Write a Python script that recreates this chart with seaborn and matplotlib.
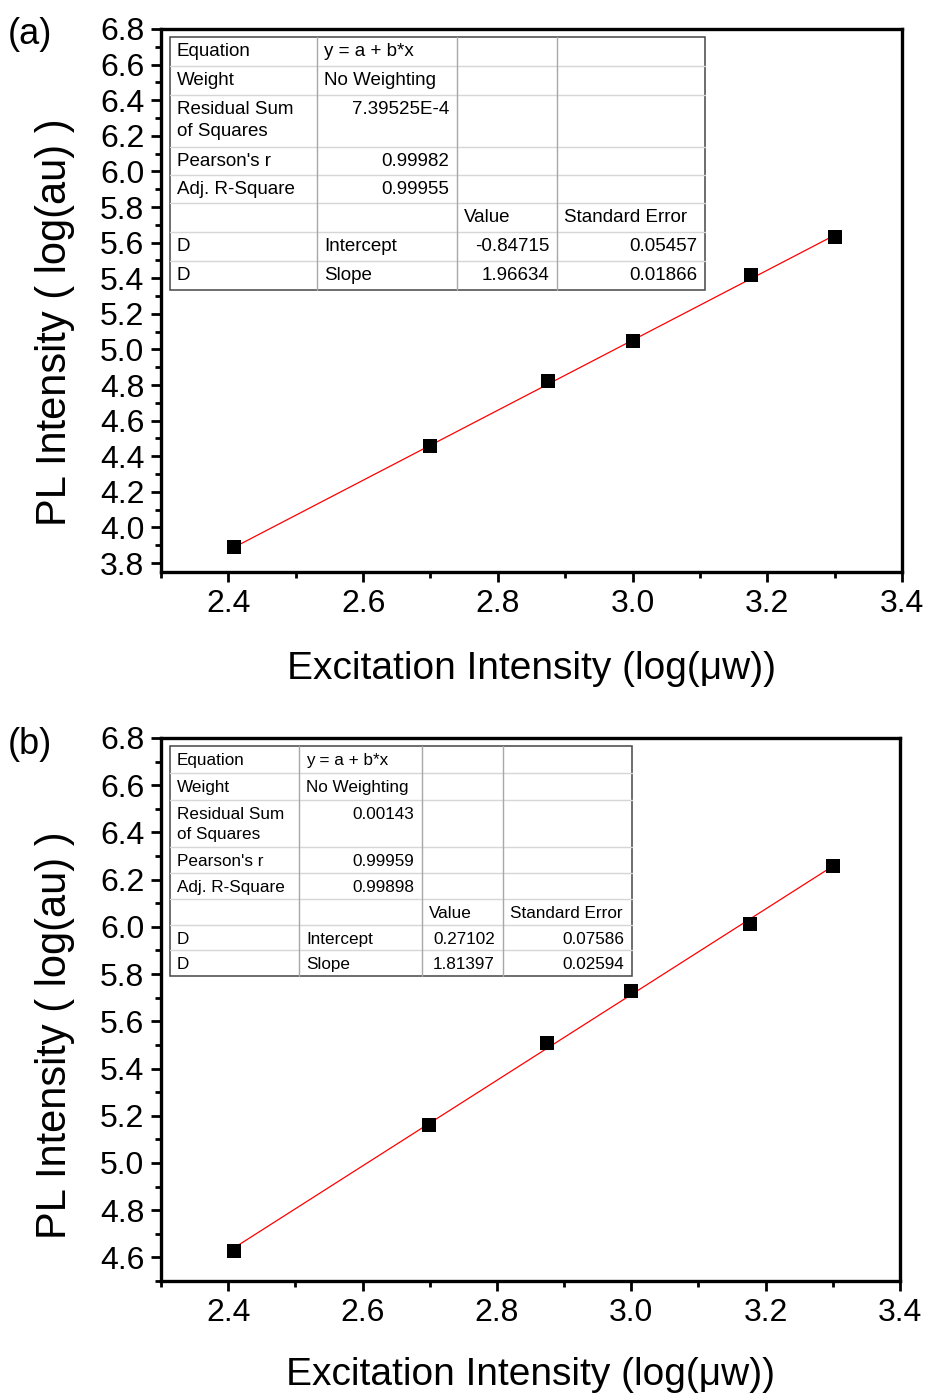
import numpy as np
import pandas as pd
import matplotlib
matplotlib.use("Agg")
import matplotlib.pyplot as plt
import seaborn as sns

# excitation intensity (log) and PL intensity (log)
x_exc = [2.408, 2.699, 2.875, 3.000, 3.176, 3.301]
y_pl_a = [3.89, 4.455, 4.825, 5.048, 5.418, 5.630]
y_pl_b = [4.626, 5.160, 5.508, 5.728, 6.012, 6.258]

fit_a = {"intercept": -0.84715, "slope": 1.96634}
fit_b = {"intercept": 0.27102, "slope": 1.81397}

table_a = [
    ["Equation", "y = a + b*x", "", ""],
    ["Weight", "No Weighting", "", ""],
    ["Residual Sum\nof Squares", "7.39525E-4", "", ""],
    ["Pearson's r", "0.99982", "", ""],
    ["Adj. R-Square", "0.99955", "", ""],
    ["", "", "Value", "Standard Error"],
    ["D", "Intercept", "-0.84715", "0.05457"],
    ["D", "Slope", "1.96634", "0.01866"],
]
table_b = [
    ["Equation", "y = a + b*x", "", ""],
    ["Weight", "No Weighting", "", ""],
    ["Residual Sum\nof Squares", "0.00143", "", ""],
    ["Pearson's r", "0.99959", "", ""],
    ["Adj. R-Square", "0.99898", "", ""],
    ["", "", "Value", "Standard Error"],
    ["D", "Intercept", "0.27102", "0.07586"],
    ["D", "Slope", "1.81397", "0.02594"],
]

sns.set_style("white")
plt.rcParams["font.family"] = ["Liberation Sans", "DejaVu Sans"]
plt.rcParams["text.color"] = "black"
plt.rcParams["axes.labelcolor"] = "black"
plt.rcParams["xtick.color"] = "black"
plt.rcParams["ytick.color"] = "black"

W, H = 928, 1394
fig = plt.figure(figsize=(W / 100, H / 100), dpi=100)


def is_num(s):
    try:
        float(s)
        return True
    except ValueError:
        return False


def draw_table(ax, rows, x0_px, top_px, col_px, row_px, fs, step):
    # table geometry in pixels from the axes' left / top edge
    pos = ax.get_position()
    aw, ah = pos.width * W, pos.height * H
    fx = lambda p: p / aw
    fy = lambda p: 1 - p / ah
    xs = np.concatenate([[x0_px], x0_px + np.cumsum(col_px)])
    ys = np.concatenate([[top_px], top_px + np.cumsum(row_px)])
    kw = dict(transform=ax.transAxes, clip_on=False, zorder=5)
    ax.add_patch(plt.Rectangle((fx(xs[0]), fy(ys[-1])), fx(xs[-1] - xs[0]), (ys[-1] - ys[0]) / ah,
                               facecolor="white", edgecolor="#454545", lw=1.1, **kw))
    for yy in ys[1:-1]:
        ax.plot([fx(xs[0]), fx(xs[-1])], [fy(yy), fy(yy)], color="#d6d6d6", lw=1, **kw)
    for xx in xs[1:-1]:
        ax.plot([fx(xx), fx(xx)], [fy(ys[0]), fy(ys[-1])], color="#a8a8a8", lw=1, **kw)
    for i, row in enumerate(rows):
        for j, txt in enumerate(row):
            if not txt:
                continue
            for k, part in enumerate(txt.split("\n")):
                yc = fy(ys[i] + 14.5 + k * step)
                if is_num(part):
                    ax.text(fx(xs[j + 1] - 8), yc, part, ha="right", va="center", fontsize=fs, **kw)
                else:
                    ax.text(fx(xs[j] + 7), yc, part, ha="left", va="center", fontsize=fs, **kw)


def panel(rect, y, fit, ylim, yticks, label, label_y, ylab_pos, rows, tgeom):
    ax = fig.add_axes(rect)
    df = pd.DataFrame({"x": x_exc, "y": y})
    xf = np.array([min(x_exc), max(x_exc)])
    line = pd.DataFrame({"x": xf, "y": fit["intercept"] + fit["slope"] * xf})
    sns.lineplot(data=line, x="x", y="y", ax=ax, color="red", lw=0.9, zorder=2)
    sns.scatterplot(data=df, x="x", y="y", ax=ax, marker="s", s=95, color="black",
                    edgecolor="black", linewidth=0, zorder=3)
    ax.set_xticks([2.4, 2.6, 2.8, 3.0, 3.2, 3.4])
    ax.set_xticks(np.arange(2.3, 3.41, 0.1), minor=True)
    ax.set_yticks(yticks)
    ax.set_yticks(np.arange(yticks[0] - 0.1, 6.81, 0.1), minor=True)
    ax.set_xlim(2.3, 3.4)
    ax.set_ylim(*ylim)
    ax.xaxis.set_major_formatter(matplotlib.ticker.FormatStrFormatter("%.1f"))
    ax.yaxis.set_major_formatter(matplotlib.ticker.FormatStrFormatter("%.1f"))
    for sp in ax.spines.values():
        sp.set_linewidth(2.4)
        sp.set_color("black")
    ax.tick_params(which="both", direction="out", width=2, color="black",
                   bottom=True, left=True, top=False, right=False)
    ax.tick_params(which="major", length=7, labelsize=23, pad=5)
    ax.tick_params(which="minor", length=4.5)
    ax.set_xlabel("Excitation Intensity (log(\u03bcw))", fontsize=28)
    ax.set_ylabel("PL Intensity ( log(au) )", fontsize=30)
    ax.xaxis.label.set_va("center")
    ax.yaxis.label.set_va("center")
    pw, ph = rect[2] * W, rect[3] * H
    ax.xaxis.set_label_coords(0.5, -label_y / ph)
    ax.yaxis.set_label_coords(-(161 - 55) / pw, ylab_pos)
    ax.text(-(161 - 8) / pw, 1 - 6 / ph, label, transform=ax.transAxes, fontsize=26,
            ha="left", va="center")
    draw_table(ax, rows, *tgeom)
    return ax


panel([161 / W, 1 - 572 / H, 741 / W, 543 / H], y_pl_a, fit_a, (3.75, 6.8),
      np.arange(3.8, 6.81, 0.2), "(a)", 97, 0.46, table_a,
      (9, 8, [147, 140, 100, 148], [29, 29, 52, 28, 28, 29, 29, 29], 13.5, 22))
panel([161 / W, 1 - 1281 / H, 739 / W, 543 / H], y_pl_b, fit_b, (4.5, 6.8),
      np.arange(4.6, 6.81, 0.2), "(b)", 94, 0.453, table_b,
      (9, 8, [129, 123, 81, 129], [27, 27, 47, 26, 26, 26, 25, 26], 12.3, 20))

fig.savefig("out.png", dpi=100)
